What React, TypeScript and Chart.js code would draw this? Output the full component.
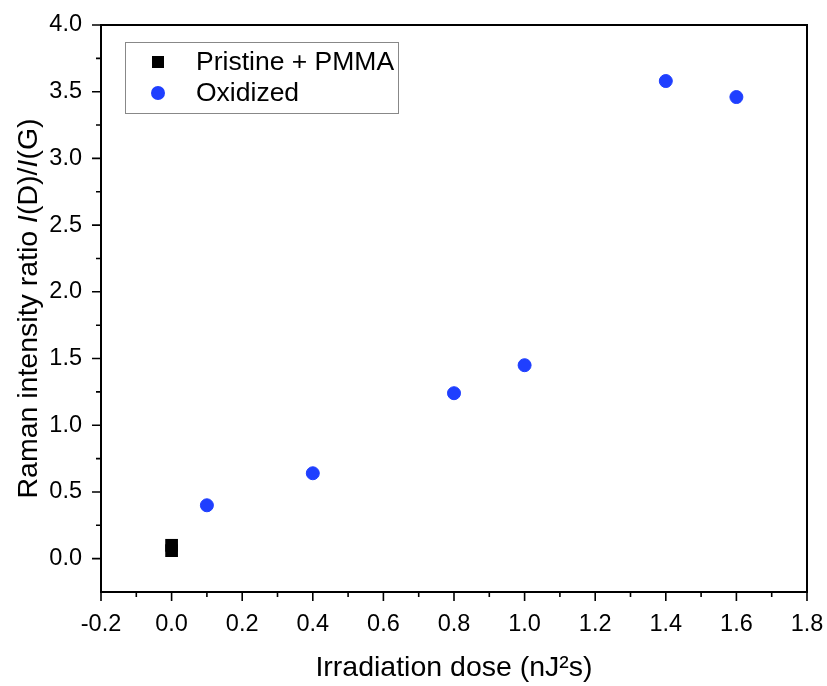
import React, { useEffect, useRef } from "react";
import { Chart, registerables } from "chart.js";

Chart.register(...registerables);

const xTicks = [-0.2, 0.0, 0.2, 0.4, 0.6, 0.8, 1.0, 1.2, 1.4, 1.6, 1.8];
const xMinorTicks = [-0.1, 0.1, 0.3, 0.5, 0.7, 0.9, 1.1, 1.3, 1.5, 1.7];
const yTicks = [0.0, 0.5, 1.0, 1.5, 2.0, 2.5, 3.0, 3.5, 4.0];
const yMinorTicks = [0.25, 0.75, 1.25, 1.75, 2.25, 2.75, 3.25, 3.75];

const pristineX = [0.0, 0.0];
const pristineY = [0.1, 0.06];
const oxidizedX = [0.1, 0.4, 0.8, 1.0, 1.4, 1.6];
const oxidizedY = [0.4, 0.64, 1.24, 1.45, 3.58, 3.46];

const seriesNames = ["Pristine + PMMA", "Oxidized"];
const xTitle = "Irradiation dose (nJ\u00B2s)";
const yTitleParts: [string, boolean][] = [
  ["Raman intensity ratio ", false],
  ["I", true],
  ["(D)/", false],
  ["I", true],
  ["(G)", false],
];

const FONT = "'Liberation Sans', Arial, Helvetica, sans-serif";
const BLUE = "#1f3fff";

const framePlugin = {
  id: "originFrame",
  afterDraw(chart: any) {
    const { ctx, chartArea } = chart;
    const { left, right, top, bottom } = chartArea;
    const xs = chart.scales.x;
    const ys = chart.scales.y;
    ctx.save();
    // frame
    ctx.strokeStyle = "#000";
    ctx.lineWidth = 2;
    ctx.strokeRect(left, top, right - left, bottom - top);
    // ticks
    ctx.lineWidth = 1.6;
    ctx.beginPath();
    xTicks.forEach((v) => {
      const px = xs.getPixelForValue(v);
      ctx.moveTo(px, bottom);
      ctx.lineTo(px, bottom + 9);
    });
    xMinorTicks.forEach((v) => {
      const px = xs.getPixelForValue(v);
      ctx.moveTo(px, bottom);
      ctx.lineTo(px, bottom + 5);
    });
    yTicks.forEach((v) => {
      const py = ys.getPixelForValue(v);
      ctx.moveTo(left, py);
      ctx.lineTo(left - 9, py);
    });
    yMinorTicks.forEach((v) => {
      const py = ys.getPixelForValue(v);
      ctx.moveTo(left, py);
      ctx.lineTo(left - 5, py);
    });
    ctx.stroke();

    // legend
    const lx = left + 24;
    const ly = top + 17;
    const lw = 273;
    const lh = 71;
    ctx.fillStyle = "#fff";
    ctx.fillRect(lx, ly, lw, lh);
    ctx.strokeStyle = "#888";
    ctx.lineWidth = 1;
    ctx.strokeRect(lx + 0.5, ly + 0.5, lw, lh);
    const mx = lx + 33;
    const row1 = ly + 20;
    const row2 = ly + 51;
    ctx.fillStyle = "#000";
    ctx.fillRect(mx - 6, row1 - 6, 12, 12);
    ctx.fillStyle = BLUE;
    ctx.beginPath();
    ctx.arc(mx, row2, 7, 0, Math.PI * 2);
    ctx.fill();
    ctx.fillStyle = "#000";
    ctx.font = `26.5px ${FONT}`;
    ctx.textAlign = "left";
    ctx.textBaseline = "middle";
    ctx.fillText(seriesNames[0], lx + 71, row1 + 1);
    ctx.fillText(seriesNames[1], lx + 71, row2 + 1);

    // y title with italic I
    ctx.translate(29, (top + bottom) / 2);
    ctx.rotate(-Math.PI / 2);
    const size = 28.5;
    let total = 0;
    yTitleParts.forEach(([t, it]) => {
      ctx.font = `${it ? "italic " : ""}${size}px ${FONT}`;
      total += ctx.measureText(t).width;
    });
    let cx = -total / 2;
    ctx.textBaseline = "middle";
    yTitleParts.forEach(([t, it]) => {
      ctx.font = `${it ? "italic " : ""}${size}px ${FONT}`;
      ctx.fillText(t, cx, 0);
      cx += ctx.measureText(t).width;
    });
    ctx.restore();
  },
};

export default function App() {
  const ref = useRef<HTMLCanvasElement | null>(null);
  useEffect(() => {
    if (!ref.current) return;
    const chart = new Chart(ref.current, {
      type: "scatter",
      data: {
        datasets: [
          {
            label: seriesNames[0],
            data: pristineX.map((x, i) => ({ x, y: pristineY[i] })),
            pointStyle: "rect",
            pointRadius: 9,
            backgroundColor: "#000",
            borderColor: "#000",
            borderWidth: 0,
          },
          {
            label: seriesNames[1],
            data: oxidizedX.map((x, i) => ({ x, y: oxidizedY[i] })),
            pointStyle: "circle",
            pointRadius: 6.5,
            backgroundColor: BLUE,
            borderColor: BLUE,
            borderWidth: 1,
          },
        ],
      },
      options: {
        responsive: false,
        animation: false,
        layout: { padding: { left: 0, top: 25, right: 20, bottom: 0 } },
        plugins: {
          legend: { display: false },
          tooltip: { enabled: false },
        },
        scales: {
          x: {
            type: "linear",
            min: -0.2,
            max: 1.8,
            grid: { display: false, drawTicks: false },
            border: { display: false },
            afterBuildTicks: (s: any) => {
              s.ticks = xTicks.map((v) => ({ value: v }));
            },
            afterFit: (s: any) => {
              s.height = 94;
              s.paddingLeft = 0;
              s.paddingRight = 0;
            },
            ticks: {
              padding: 18,
              color: "#000",
              font: { family: FONT, size: 23.5 },
              maxRotation: 0,
              autoSkip: false,
              callback: (v: any) => Number(v).toFixed(1),
            },
            title: {
              display: true,
              text: xTitle,
              color: "#000",
              font: { family: FONT, size: 28.5 },
              padding: { top: 0, bottom: 1 },
            },
          },
          y: {
            type: "linear",
            min: -0.25,
            max: 4.0,
            grid: { display: false, drawTicks: false },
            border: { display: false },
            afterBuildTicks: (s: any) => {
              s.ticks = yTicks.map((v) => ({ value: v }));
            },
            afterFit: (s: any) => {
              s.width = 101;
              s.paddingTop = 0;
              s.paddingBottom = 0;
            },
            ticks: {
              padding: 19,
              color: "#000",
              font: { family: FONT, size: 23.5 },
              autoSkip: false,
              callback: (v: any) => Number(v).toFixed(1),
            },
          },
        },
      },
      plugins: [framePlugin],
    });
    return () => chart.destroy();
  }, []);
  return (
    <canvas
      ref={ref}
      width={827}
      height={686}
      style={{ position: "fixed", left: 0, top: 0, display: "block", background: "#fff" }}
    />
  );
}
